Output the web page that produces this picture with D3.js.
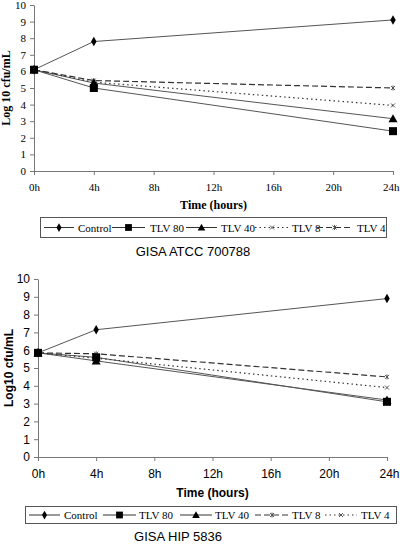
<!DOCTYPE html>
<html><head><meta charset="utf-8">
<script src="https://cdn.jsdelivr.net/npm/d3@7"></script>
<style>body{margin:0;background:#fff}svg{display:block}</style>
</head><body>
<svg id="c" width="400" height="544"></svg>
<script>
const times = [0, 4, 24];
const tickHours = [0, 4, 8, 12, 16, 20, 24];
const yTicks = [0,1,2,3,4,5,6,7,8,9,10];

// Chart 1: GISA ATCC 700788
const atccNames = ["Control", "TLV 80", "TLV 40", "TLV 8", "TLV 4"];
const atccControl = [6.1, 7.8, 9.1];
const atccTLV80 = [6.1, 5.0, 2.4];
const atccTLV40 = [6.1, 5.3, 3.15];
const atccTLV8 = [6.1, 5.35, 3.95];
const atccTLV4 = [6.1, 5.45, 5.0];

// Chart 2: GISA HIP 5836
const hipNames = ["Control", "TLV 80", "TLV 40", "TLV 8", "TLV 4"];
const hipControl = [5.85, 7.15, 8.9];
const hipTLV80 = [5.85, 5.6, 3.1];
const hipTLV40 = [5.85, 5.4, 3.2];
const hipTLV8 = [5.85, 5.8, 4.5];
const hipTLV4 = [5.85, 5.55, 3.9];

const svg = d3.select("#c");
const SERIF = "'Liberation Serif','Times New Roman',serif";
const SANS = "'Liberation Sans',Arial,sans-serif";

function marker(g, type, x, y, small) {
  const k = small ? 0.85 : 1;
  if (type === "diamond") {
    g.append("path").attr("d", d3.symbol(d3.symbolDiamond, 26 * k)()).attr("transform", `translate(${x},${y})`).attr("fill", "#000");
  } else if (type === "square") {
    const s = 4 * k;
    g.append("rect").attr("x", x-s).attr("y", y-s).attr("width", 2*s).attr("height", 2*s).attr("fill", "#000");
  } else if (type === "triangle") {
    const s = 4.5 * k;
    g.append("path").attr("d", `M${x},${y-s}L${x+s},${y+s*0.8}L${x-s},${y+s*0.8}Z`).attr("fill", "#000");
  } else if (type === "x" || type === "star") {
    g.append("path").attr("d", `M${x-2},${y-2}L${x+2},${y+2}M${x-2},${y+2}L${x+2},${y-2}`).attr("stroke", "#555").attr("stroke-width", 1);
    if (type === "star") g.append("path").attr("d", `M${x},${y-2.5}V${y+2.5}`).attr("stroke", "#555");
  }
}

function drawChart(cfg) {
  const g = svg.append("g");
  const x = d3.scaleLinear().domain([0, 24]).range(cfg.xr);
  const y = d3.scaleLinear().domain([0, 10]).range(cfg.yr);
  // y axis
  const ya = g.append("g").attr("transform", `translate(${cfg.xr[0]},0)`)
    .call(d3.axisLeft(y).tickValues(yTicks).tickSize(4).tickSizeOuter(0));
  ya.select(".domain").attr("stroke", "#777");
  ya.selectAll(".tick line").attr("stroke", "#777");
  ya.selectAll("text").attr("font-family", cfg.tickFont).attr("font-size", cfg.tickSize).attr("fill", "#000").attr("x", -8);
  // x axis
  const xa = g.append("g").attr("transform", `translate(0,${cfg.yr[0]})`)
    .call(d3.axisBottom(x).tickValues(tickHours).tickFormat(d => d + "h").tickSize(4).tickSizeOuter(0));
  xa.select(".domain").attr("stroke", "#777");
  xa.selectAll(".tick line").attr("stroke", "#777");
  xa.selectAll("text").attr("font-family", cfg.tickFont).attr("font-size", cfg.tickSize).attr("fill", "#000")
    .attr("dy", null).attr("y", cfg.xtBase)
    .filter(d => d === 24).attr("text-anchor", "end").attr("x", 399 - x(24));
  // axis titles
  g.append("text").attr("x", (cfg.xr[0]+cfg.xr[1])/2).attr("y", cfg.xTitleY).attr("text-anchor", "middle")
    .attr("font-family", cfg.titleFont).attr("font-weight", "bold").attr("font-size", cfg.axisTitleSize).text("Time (hours)");
  g.append("text").attr("transform", `translate(${cfg.yTitleX},${(cfg.yr[0]+cfg.yr[1])/2}) rotate(-90)`).attr("text-anchor", "middle")
    .attr("font-family", cfg.titleFont).attr("font-weight", "bold").attr("font-size", cfg.axisTitleSize).text(cfg.yTitle);
  // lines
  const line = d3.line().x((d, i) => x(times[i])).y(d => y(d));
  cfg.series.forEach(s => {
    g.append("path").datum(s.values).attr("d", line).attr("fill", "none").attr("stroke", s.dash ? "#333" : "#555")
      .attr("stroke-width", s.dash ? 1.2 : 1).attr("stroke-dasharray", s.dash || null);
  });
  cfg.series.slice().reverse().forEach(s => {
    s.values.forEach((v, i) => marker(g, s.marker, x(times[i]), y(v)));
  });
  // legend
  const [lx0, ly0, lx1, ly1] = cfg.legendBox;
  g.append("rect").attr("x", lx0 + 0.5).attr("y", ly0 + 0.5).attr("width", lx1-lx0).attr("height", ly1-ly0).attr("fill", "none").attr("stroke", "#555");
  const ly = (ly0 + ly1) / 2 + 0.5;
  cfg.series.forEach((s, i) => {
    const [a, b, tx] = cfg.legendPos[i];
    g.append("line").attr("x1", a).attr("x2", b).attr("y1", ly).attr("y2", ly).attr("stroke", "#333").attr("stroke-dasharray", s.dash || null);
    marker(g, s.marker, (a+b)/2, ly, true);
    g.append("text").attr("x", tx).attr("y", ly + 4).attr("font-family", SERIF).attr("font-size", 11).text(s.name);
  });
  g.append("text").attr("x", cfg.titleX).attr("y", cfg.titleY).attr("text-anchor", "middle")
    .attr("font-family", SANS).attr("font-size", 13).text(cfg.title);
}

drawChart({
  xr: [34, 393], yr: [171, 5],
  tickFont: SERIF, tickSize: 11, xtBase: 20,
  titleFont: SERIF, axisTitleSize: 12, xTitleY: 209, yTitleX: 10, yTitle: "Log 10 cfu/mL",
  series: [
    {name: atccNames[0], values: atccControl, marker: "diamond"},
    {name: atccNames[1], values: atccTLV80, marker: "square"},
    {name: atccNames[2], values: atccTLV40, marker: "triangle"},
    {name: atccNames[3], values: atccTLV8, marker: "x", dash: "1.5,3"},
    {name: atccNames[4], values: atccTLV4, marker: "star", dash: "6,3"}
  ],
  legendBox: [40, 217, 386, 237],
  legendPos: [[44, 74, 78], [112, 145, 150], [186, 217, 221], [255, 289, 292], [317, 352, 357]],
  title: "GISA ATCC 700788", titleX: 193, titleY: 256
});

drawChart({
  xr: [38, 387], yr: [457, 279],
  tickFont: SANS, tickSize: 12, xtBase: 21,
  titleFont: SANS, axisTitleSize: 12, xTitleY: 497, yTitleX: 13, yTitle: "Log10 cfu/mL",
  series: [
    {name: hipNames[0], values: hipControl, marker: "diamond"},
    {name: hipNames[1], values: hipTLV80, marker: "square"},
    {name: hipNames[2], values: hipTLV40, marker: "triangle"},
    {name: hipNames[3], values: hipTLV8, marker: "star", dash: "6,3"},
    {name: hipNames[4], values: hipTLV4, marker: "x", dash: "1.5,3"}
  ],
  legendBox: [25, 506, 396, 523],
  legendPos: [[29, 60, 64], [103, 136, 139], [180, 212, 215], [255, 289, 292], [325, 357, 361]],
  title: "GISA HIP 5836", titleX: 178, titleY: 541
});
</script>
</body></html>
